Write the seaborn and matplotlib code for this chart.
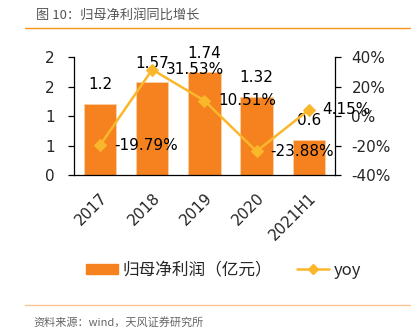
import matplotlib
matplotlib.use("Agg")
import matplotlib.pyplot as plt
from matplotlib.lines import Line2D
from matplotlib.patches import Patch
import seaborn as sns
import pandas as pd

categories = ["2017", "2018", "2019", "2020", "2021H1"]
profit = [1.2, 1.57, 1.74, 1.32, 0.6]
yoy = [-19.79, 31.53, 10.51, -23.88, 4.15]
left_ticks = [0, 0.5, 1, 1.5, 2]
left_labels = ["0", "1", "1", "2", "2"]
right_ticks = [-40, -20, 0, 20, 40]
right_labels = ["-40%", "-20%", "0%", "20%", "40%"]
title = "图 10：归母净利润同比增长"
source = "资料来源：wind，天风证券研究所"
bar_name = "归母净利润（亿元）"
line_name = "yoy"

sns.set_theme(style="white")
plt.rcParams['font.family'] = ['DejaVu Sans', 'Noto Sans CJK SC']
CJK = ['Noto Sans CJK SC', 'DejaVu Sans']

BAR = "#F5821F"
LINE = "#FBB72B"
FS = 11

df = pd.DataFrame({"cat": categories, "profit": profit, "yoy": yoy})

fig = plt.figure(figsize=(4.18, 3.36), dpi=100)
ax = fig.add_axes([0.177, 0.479, 0.624, 0.351])
sns.barplot(data=df, x="cat", y="profit", color=BAR, width=0.62, saturation=1,
            edgecolor="#FAD0A8", linewidth=0.6, ax=ax)
ax.set_ylim(0, 2)
ax.set_xlim(-0.5, 4.5)
ax.set_yticks(left_ticks)
ax.set_yticklabels(left_labels, fontsize=FS)
ax.set_xlabel("")
ax.set_ylabel("")
ax.set_xticks(range(len(categories)))
ax.set_xticklabels(categories, rotation=45, ha="right", rotation_mode="anchor", fontsize=FS)
ax.tick_params(axis="x", length=0, pad=11)
ax.set_xticks([i - 0.5 for i in range(len(categories) + 1)], minor=True)
ax.tick_params(axis="x", which="minor", length=4, width=0.9, color="black", direction="out")
ax.tick_params(axis="y", length=4, width=0.9, color="black", direction="out", left=True, pad=10)
for s in ["top", "right"]:
    ax.spines[s].set_visible(False)
for s in ["left", "bottom"]:
    ax.spines[s].set_color("black")
    ax.spines[s].set_linewidth(0.9)

for i, v in enumerate(profit):
    ax.annotate(f"{v:g}", (i, v), xytext=(0, 14), textcoords="offset points",
                ha="center", va="center", fontsize=FS, color="black", annotation_clip=False)

ax2 = ax.twinx()
sns.lineplot(data=df, x="cat", y="yoy", color=LINE, marker="D", markersize=6.5,
             markeredgecolor=LINE, linewidth=1.8, ax=ax2, sort=False)
ax2.set_ylim(-40, 40)
ax2.set_yticks(right_ticks)
ax2.set_yticklabels(right_labels, fontsize=FS)
ax2.set_ylabel("")
ax2.tick_params(axis="y", length=4, width=0.9, color="black", direction="out", right=True, pad=8)
for s in ["top", "left", "bottom"]:
    ax2.spines[s].set_visible(False)
ax2.spines["right"].set_color("black")
ax2.spines["right"].set_linewidth(0.9)
for i, v in enumerate(yoy):
    ax2.annotate(f"{v:.2f}%", (i, v), xytext=(10, 0), textcoords="offset points",
                 ha="left", va="center", fontsize=FS, color="black", annotation_clip=False)

handles = [Patch(facecolor=BAR, edgecolor=BAR),
           Line2D([0], [0], color=LINE, marker="D", markersize=5, linewidth=1.8)]
fig.legend(handles, [bar_name, line_name], loc="center", bbox_to_anchor=(0.535, 0.195),
           ncol=2, frameon=False, prop={'family': CJK, 'size': 12},
           handlelength=1.9, handleheight=0.6, columnspacing=1.5, handletextpad=0.3)

fig.text(0.085, 0.955, title, fontsize=9.5, color="#555555", ha="left", va="center", family=CJK)
fig.add_artist(Line2D([0.06, 0.98], [0.917, 0.917], color="#F7941D", linewidth=1.0))
fig.add_artist(Line2D([0.06, 0.98], [0.092, 0.092], color="#FBC490", linewidth=1.0))
fig.text(0.08, 0.042, source, fontsize=8, color="#666666", ha="left", va="center", family=CJK)

fig.savefig("out.png", dpi=100)
